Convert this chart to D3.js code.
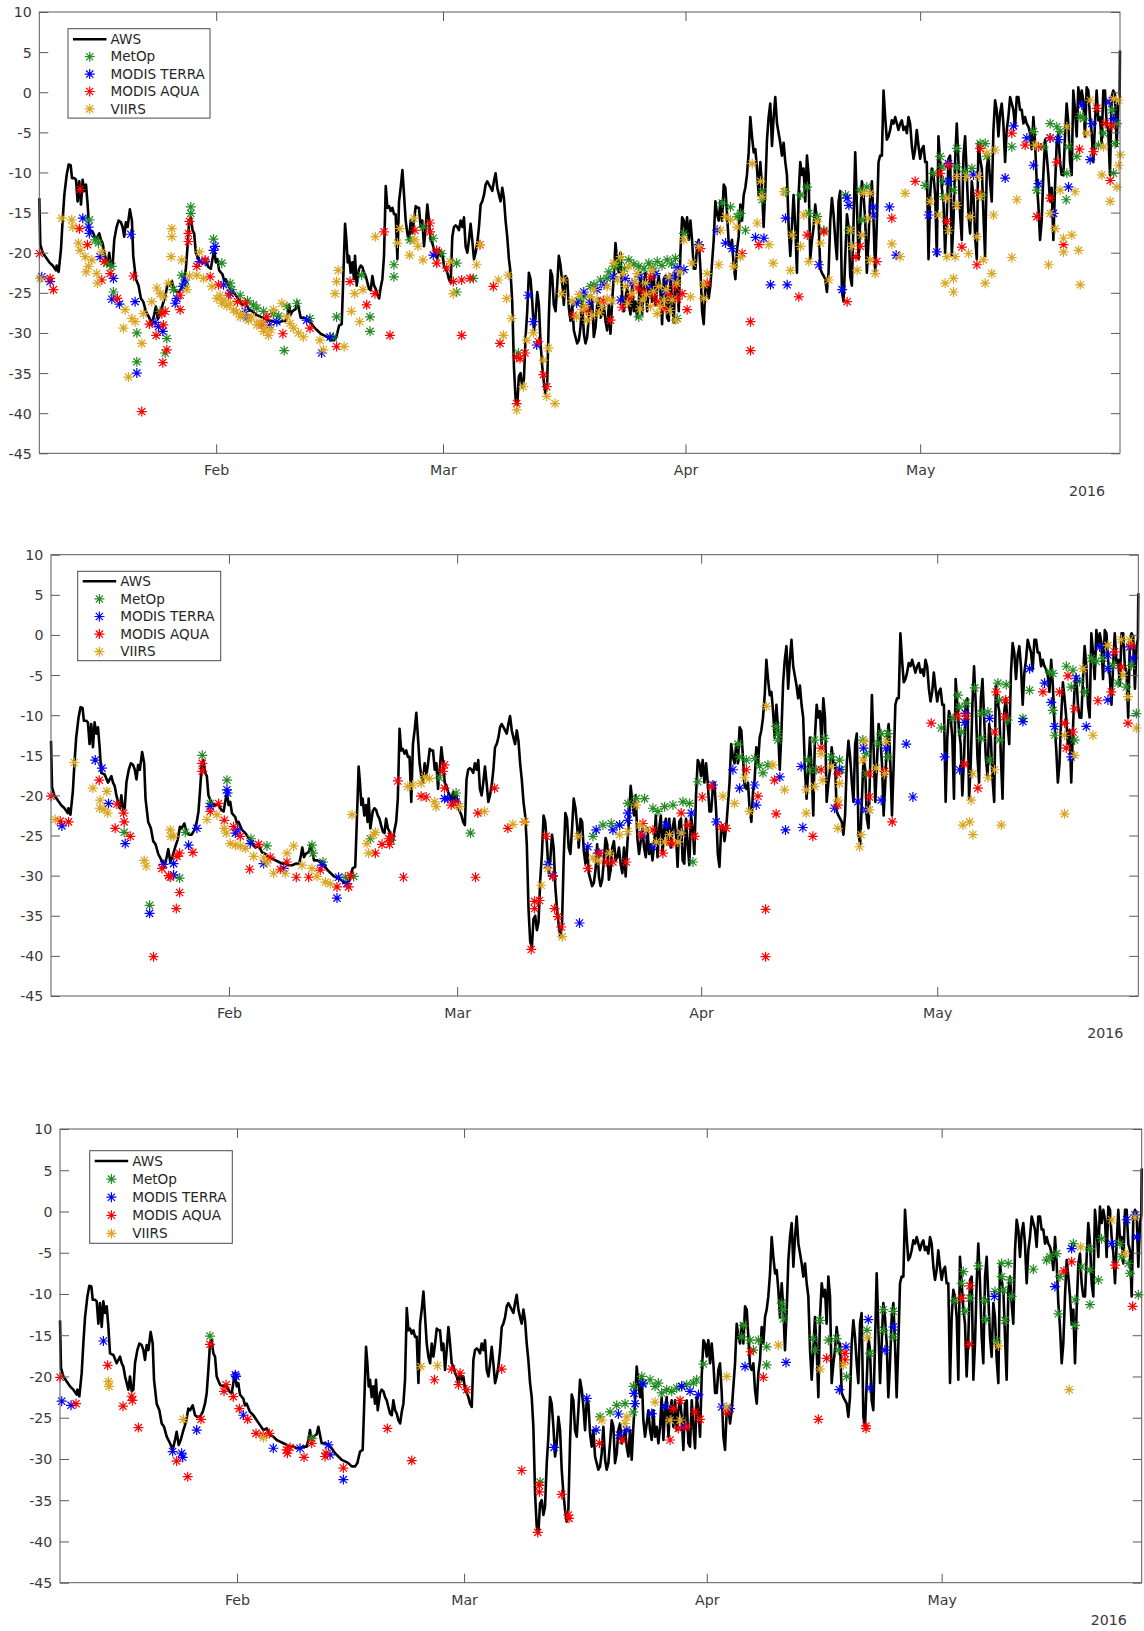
<!DOCTYPE html>
<html><head><meta charset="utf-8">
<script src="https://cdn.jsdelivr.net/npm/d3@7"></script>
<style>body{margin:0;background:#fff}svg{display:block}text{font-family:"DejaVu Sans",sans-serif}</style>
</head><body><svg id="c" width="1144" height="1631"></svg>
<script>
// ---- data (days since 2016-01-01 00:00 UTC, temperature °C) ----
const seriesNames = ["AWS","MetOp","MODIS TERRA","MODIS AQUA","VIIRS"];
const seriesColors = ["#000000","#228B22","#0000FF","#FF0000","#DAA520"];
const yTicks = [10,5,0,-5,-10,-15,-20,-25,-30,-35,-40,-45];
const yDomain = [-45,10];
const dayRange = [8.39,146.55];
const monthTickDays = [31,60,91,121];
const monthLabels = ["Feb","Mar","Apr","May"];
const yearLabel = "2016";

const aws = [[8.39,-13.2],[8.52,-19.0],[8.82,-20.0],[9.25,-20.6],[9.67,-21.2],[10.10,-21.6],[10.52,-22.2],[10.61,-21.6],[10.86,-22.4],[11.16,-19.6],[11.37,-16.0],[11.59,-12.8],[11.89,-10.3],[12.14,-9.0],[12.40,-9.1],[12.57,-10.7],[12.87,-10.7],[13.08,-10.9],[13.29,-13.6],[13.50,-11.1],[13.72,-14.0],[13.93,-10.9],[14.14,-12.3],[14.36,-11.5],[14.57,-14.0],[14.78,-17.2],[15.21,-17.4],[15.63,-18.4],[16.06,-17.6],[16.27,-18.4],[16.48,-18.8],[16.70,-20.0],[17.12,-21.6],[17.33,-20.0],[17.55,-21.8],[17.76,-21.6],[17.97,-18.4],[18.27,-16.8],[18.53,-16.0],[18.82,-16.2],[19.04,-16.8],[19.25,-18.0],[19.46,-16.2],[19.68,-16.8],[19.97,-14.6],[20.23,-16.0],[20.40,-20.4],[20.74,-23.3],[21.08,-24.1],[21.38,-25.7],[21.68,-26.1],[22.02,-27.3],[22.44,-28.1],[22.78,-28.9],[23.08,-27.7],[23.29,-26.7],[23.55,-28.3],[23.81,-27.7],[24.15,-26.5],[24.49,-25.5],[24.78,-23.9],[25.00,-24.1],[25.34,-23.5],[25.64,-24.7],[25.93,-24.9],[26.27,-24.9],[26.62,-24.3],[26.91,-23.3],[27.13,-22.0],[27.34,-19.2],[27.55,-16.0],[27.76,-15.6],[27.98,-17.2],[28.19,-17.6],[28.40,-20.0],[28.83,-21.0],[29.25,-21.2],[29.68,-21.2],[30.02,-21.8],[30.32,-22.0],[30.53,-20.8],[30.74,-19.6],[30.96,-21.2],[31.17,-20.8],[31.38,-22.2],[31.81,-22.7],[32.02,-23.5],[32.23,-23.3],[32.66,-24.3],[33.09,-24.7],[33.51,-25.3],[33.94,-25.9],[34.36,-26.5],[34.79,-26.3],[35.21,-27.1],[35.64,-27.3],[36.07,-27.7],[36.49,-27.9],[36.92,-28.1],[37.34,-28.3],[37.77,-28.5],[38.19,-28.5],[38.62,-28.7],[39.05,-28.7],[39.47,-28.5],[39.90,-28.5],[40.11,-27.7],[40.32,-26.5],[40.54,-27.7],[40.75,-27.3],[41.17,-27.0],[41.39,-26.1],[41.81,-28.1],[42.24,-28.1],[42.66,-28.3],[43.09,-28.7],[43.52,-29.3],[43.94,-29.7],[44.37,-30.1],[44.79,-30.3],[45.22,-30.5],[45.64,-30.9],[46.07,-30.9],[46.37,-30.5],[46.71,-29.1],[47.05,-28.9],[47.22,-24.1],[47.48,-16.4],[47.65,-18.4],[47.82,-21.2],[47.99,-20.4],[48.20,-22.5],[48.41,-21.2],[48.62,-23.3],[48.75,-20.4],[48.97,-24.1],
[49.27,-22.0],[49.48,-21.6],[49.70,-21.8],[49.91,-22.5],[50.12,-22.9],[50.33,-23.7],[50.55,-24.5],[50.76,-24.7],[50.97,-22.9],[51.19,-24.1],[51.40,-24.5],[51.61,-25.3],[51.83,-25.7],[52.04,-24.3],[52.25,-23.3],[52.46,-20.4],[52.68,-11.7],[52.89,-14.4],[53.10,-14.2],[53.31,-14.8],[53.53,-14.4],[53.74,-15.2],[53.95,-15.2],[54.17,-20.8],[54.38,-13.6],[54.59,-11.9],[54.81,-9.7],[55.02,-12.8],[55.23,-16.0],[55.44,-17.6],[55.66,-18.4],[55.87,-16.0],[56.08,-17.6],[56.30,-16.0],[56.51,-14.2],[56.72,-14.4],[56.93,-14.4],[57.15,-16.8],[57.36,-16.0],[57.57,-19.2],[57.78,-16.8],[58.00,-14.0],[58.21,-16.0],[58.42,-18.4],[58.64,-18.8],[58.85,-19.6],[59.06,-20.0],[59.27,-20.8],[59.49,-19.6],[59.70,-20.4],[59.91,-20.0],[60.12,-21.6],[60.34,-22.0],[60.55,-22.5],[60.76,-23.3],[60.98,-23.7],[61.19,-18.0],[61.40,-16.8],[61.62,-16.6],[61.83,-16.8],[62.04,-17.2],[62.25,-16.0],[62.47,-16.8],[62.68,-15.6],[62.89,-19.2],[63.11,-20.0],[63.32,-18.4],[63.53,-16.4],[63.74,-18.4],[63.96,-20.8],[64.17,-20.0],[64.38,-18.8],[64.60,-16.8],[64.81,-14.0],[65.02,-13.6],[65.24,-12.8],[65.45,-11.5],[65.66,-11.1],[65.87,-11.5],[66.09,-11.9],[66.30,-12.3],[66.51,-11.1],[66.72,-10.1],[66.94,-11.9],[67.15,-12.8],[67.36,-13.6],[67.58,-11.9],[67.79,-13.2],[68.00,-16.0],[68.21,-18.0],[68.43,-20.8],[68.64,-22.5],[68.85,-26.1],[69.07,-34.2],[69.28,-38.2],[69.49,-39.0],[69.70,-35.4],[69.92,-35.0],[70.13,-36.8],[70.34,-35.8],[70.56,-30.5],[70.77,-27.3],[70.98,-22.5],[71.19,-23.3],[71.41,-26.1],[71.62,-29.7],[71.83,-28.1],[72.05,-24.9],[72.26,-26.5],[72.47,-31.3],[72.69,-34.2],[72.90,-36.2],[73.11,-37.6],[73.32,-36.2],[73.54,-27.7],[73.75,-22.2],[73.96,-22.9],[74.17,-26.5],[74.39,-27.3],[74.60,-24.1],[74.81,-20.4],[75.03,-21.6],[75.24,-23.7],[75.45,-26.5],[75.67,-22.9],[75.88,-23.3],[76.09,-26.9],[76.30,-28.5],[76.52,-26.5],[76.73,-29.7],[76.94,-30.5],[77.15,-31.3],[77.37,-30.9],[77.58,-29.3],[77.79,-26.1],[78.01,-30.1],[78.22,-31.3],[78.43,-30.5],[78.64,-28.1],[78.86,-25.3],[79.07,-26.1],[79.28,-30.5],[79.50,-29.3],[79.71,-26.5],[79.92,-25.7],[80.13,-28.1],[80.35,-27.7],[80.56,-26.5],[80.77,-28.5],[80.99,-29.7],[81.20,-26.5],[81.41,-30.1],[81.62,-26.1],[81.84,-22.9],[82.05,-18.8],[82.26,-20.8],[82.48,-22.5],[82.69,-20.0],[82.90,-25.3],[83.11,-27.3],[83.33,-25.7],[83.54,-24.1],[83.75,-26.5],[83.97,-27.7],[84.18,-24.1],[84.39,-27.3],[84.60,-26.1],[84.82,-28.1],[85.03,-26.1],[85.24,-22.5],[85.46,-27.7],[85.67,-24.1],[85.88,-22.5],[86.10,-27.3],[86.31,-24.1],[86.52,-22.9],[86.73,-26.1],[86.95,-22.9],[87.16,-26.5],[87.37,-24.1],[87.59,-22.9],[87.80,-24.9],[88.01,-28.9],[88.22,-23.3],[88.44,-22.9],[88.65,-28.1],[88.86,-28.5],[89.08,-22.9],[89.29,-26.1],[89.50,-28.7],[89.71,-22.5],[89.93,-24.1],[90.14,-27.3],[90.35,-20.0],[90.57,-15.6],[90.78,-16.0],[90.99,-17.6],[91.20,-15.6],[91.42,-18.4],[91.63,-16.0],[91.84,-18.4],[92.06,-22.0],[92.27,-22.0],[92.48,-19.2],[92.69,-18.4],[92.91,-22.0],[93.12,-27.3],[93.33,-28.9],[93.55,-24.1],[93.76,-23.7],[93.97,-25.7],[94.18,-24.1],[94.40,-21.2],[94.61,-18.4],[94.82,-13.6],[95.04,-15.2],[95.25,-16.0],[95.46,-13.6],[95.67,-16.0],[95.89,-11.5],[96.10,-11.9],[96.31,-15.2],[96.53,-18.8],[96.74,-19.2],[96.95,-18.4],[97.16,-21.6],[97.38,-23.3],[97.59,-19.6],[97.80,-18.0],[98.01,-14.0],
[98.23,-16.0],[98.44,-12.8],[98.65,-11.9],[98.86,-10.3],[99.08,-7.5],[99.29,-3.1],[99.50,-5.5],[99.72,-7.5],[99.93,-7.1],[100.14,-9.5],[100.35,-12.8],[100.57,-8.7],[100.78,-11.9],[100.99,-16.8],[101.21,-11.9],[101.42,-5.9],[101.63,-3.1],[101.84,-1.4],[102.06,-6.7],[102.27,-3.1],[102.48,-0.6],[102.70,-3.9],[102.91,-5.1],[103.12,-6.3],[103.33,-7.9],[103.55,-6.3],[103.76,-8.7],[103.97,-10.3],[104.19,-16.8],[104.40,-20.4],[104.61,-16.8],[104.82,-12.8],[105.04,-16.8],[105.25,-22.5],[105.46,-12.8],[105.68,-8.7],[105.89,-10.3],[106.10,-9.5],[106.31,-13.6],[106.53,-7.9],[106.74,-10.3],[106.95,-20.8],[107.17,-18.4],[107.38,-16.8],[107.59,-14.0],[107.80,-16.0],[108.02,-16.0],[108.23,-22.0],[108.44,-22.5],[108.66,-22.9],[108.87,-23.3],[109.08,-24.9],[109.29,-22.5],[109.51,-16.0],[109.72,-13.2],[109.93,-15.2],[110.15,-18.4],[110.36,-20.8],[110.57,-13.6],[110.78,-12.3],[111.00,-24.9],[111.21,-26.1],[111.42,-20.8],[111.64,-15.2],[111.85,-16.8],[112.06,-22.9],[112.27,-24.1],[112.49,-16.0],[112.70,-7.5],[112.91,-14.0],[113.13,-20.8],[113.34,-16.0],[113.55,-11.1],[113.76,-12.8],[113.98,-16.0],[114.19,-22.5],[114.40,-18.4],[114.62,-12.8],[114.83,-11.1],[115.04,-16.0],[115.25,-22.5],[115.47,-16.0],[115.68,-8.7],[115.89,-7.9],[116.11,-7.9],[116.32,0.2],[116.53,-3.1],[116.74,-5.9],[116.96,-5.5],[117.17,-4.7],[117.38,-3.5],[117.60,-3.9],[117.81,-3.1],[118.02,-3.9],[118.23,-4.7],[118.45,-3.9],[118.66,-3.5],[118.87,-4.7],[119.09,-4.3],[119.30,-5.1],[119.51,-3.1],[119.72,-3.9],[119.94,-6.7],[120.15,-8.3],[120.36,-7.1],[120.57,-4.7],[120.79,-6.7],[121.00,-8.3],[121.21,-7.1],[121.43,-6.7],[121.64,-8.7],[121.85,-8.7],[122.07,-20.8],[122.28,-12.8],[122.49,-9.5],[122.70,-10.3],[122.92,-12.8],[123.13,-20.4],[123.34,-5.5],[123.56,-8.7],[123.77,-11.9],[123.98,-13.6],[124.19,-20.0],[124.41,-15.2],[124.62,-8.3],[124.83,-7.9],[125.05,-20.4],[125.26,-16.0],[125.47,-8.7],[125.68,-3.9],[125.90,-8.7],[126.11,-15.2],[126.32,-18.4],[126.54,-7.9],[126.75,-5.5],[126.96,-10.3],[127.17,-15.2],[127.39,-17.6],[127.60,-11.1],[127.81,-12.8],[128.03,-18.0],[128.24,-20.8],[128.45,-6.3],[128.66,-8.3],[128.88,-9.5],[129.09,-15.2],[129.30,-20.4],[129.52,-9.5],[129.73,-7.9],[129.94,-11.1],[130.15,-13.6],[130.37,-4.7],[130.58,-1.0],[130.79,-2.2],[131.01,-5.5],[131.22,-2.6],[131.43,-1.4],[131.64,-3.9],[131.86,-8.7],[132.07,-4.7],[132.28,-3.1],[132.50,-0.6],[132.71,-1.4],[132.92,-2.2],[133.13,-4.3],[133.35,-0.6],[133.56,-0.6],[133.77,-2.2],[133.99,-2.2],[134.20,-3.9],[134.41,-3.1],[134.62,-3.9],[134.84,-4.3],[135.05,-5.1],[135.26,-7.1],[135.48,-3.1],[135.69,-6.3],[135.90,-11.1],[136.11,-14.0],[136.33,-18.4],[136.54,-16.0],[136.75,-10.3],[136.97,-5.9],[137.18,-7.9],[137.39,-10.3],[137.60,-13.6],[137.82,-11.9],[138.03,-18.4],[138.24,-11.9],[138.46,-6.3],[138.67,-5.1],[138.88,-8.7],[139.09,-10.3],[139.31,-10.3],[139.52,-5.5],[139.73,-1.4],[139.95,-3.9],[140.16,-8.7],[140.37,-10.3],[140.58,0.2],[140.80,-2.2],[141.01,-5.5],[141.22,0.6],[141.44,-1.4],[141.65,0.2],[141.86,-1.0],[142.07,-5.5],[142.29,0.6],[142.50,0.2],[142.71,-3.1],[142.93,-5.1],[143.14,-8.7],[143.35,-3.9],[143.56,0.2],[143.78,-3.5],[143.99,-3.1],[144.20,-6.3],[144.42,0.2],[144.63,0.2],[144.84,-3.9],[145.05,-4.7],[145.27,-10.3],[145.48,-0.6],[145.69,0.2],[145.90,-0.2],[146.12,-6.7],[146.33,-1.4],[146.50,-0.5],[146.55,5.2]];

// ---- panel 1 satellites ----
const p1MetOp = [[14.80,-15.9],[15.53,-18.4],[15.95,-18.8],[17.02,-21.3],[17.66,-21.7],[17.87,-24.9],[20.86,-30.0],[20.86,-33.6],[23.84,-27.3],[24.48,-32.5],[24.69,-30.7],[25.54,-24.6],[26.61,-22.8],[26.95,-24.0],[27.76,-14.3],[27.76,-15.1],[30.66,-18.3],[31.72,-21.3],[32.79,-23.8],[33.0,-24.6],[34.07,-25.3],[35.0,-26.0],[35.77,-26.5],[36.2,-26.9],[37.05,-27.3],[38.3,-27.6],[39.0,-27.9],[39.70,-32.2],[40.04,-26.7],[41.32,-26.3],[42.99,-28.2],[45.98,-30.5],[46.40,-28.0],[49.60,-22.8],[50.67,-28.0],[50.67,-29.8],[53.73,-21.5],[53.73,-23.0],[55.78,-18.4],[57.49,-16.8],[58.76,-18.2],[59.83,-20.1],[61.75,-21.3],[61.75,-24.9],[63.88,-23.2],[69.63,-32.5],[77.3,-26.0],[78.0,-25.5],[78.85,-24.2],[79.3,-24.0],[80.13,-23.4],[80.98,-23.2],[81.2,-22.4],[81.84,-21.7],[82.2,-21.6],[82.69,-20.9],[83.2,-22.0],[83.75,-20.9],[84.4,-21.4],[85.03,-21.7],[85.03,-28.0],[85.7,-22.0],[86.31,-21.3],[86.8,-21.9],[87.38,-21.1],[88.0,-21.6],[88.66,-20.9],[89.2,-21.4],[89.72,-20.7],[89.93,-28.2],[90.79,-17.6],[95.69,-13.8],[96.75,-14.3],[97.61,-15.5],[98.03,-15.1],[98.67,-17.2],[100.80,-12.4],[100.80,-13.4],[103.79,-12.4],[105.71,-12.8],[106.56,-11.8],[106.77,-15.1],[107.84,-15.5],[108.69,-17.2],[111.46,-12.8],[111.89,-17.2],[113.33,-12.2],[114.18,-11.8],[113.54,-15.9],[121.64,-11.6],[122.70,-10.1],[123.56,-8.0],[123.77,-9.3],[123.98,-11.1],[123.98,-13.0],[125.69,-7.0],[125.69,-9.3],[125.26,-12.2],[126.75,-9.9],[127.61,-9.5],[128.67,-6.4],[129.31,-6.4],[129.53,-8.0],[128.89,-12.8],[132.72,-6.8],[135.49,-4.9],[135.92,-12.2],[136.77,-6.8],[137.62,-3.9],[138.48,-4.3],[138.90,-4.9],[139.76,-10.1],[139.67,-13.4],[139.97,-6.8],[141.03,-8.0],[141.46,-3.0],[141.89,-3.3],[143.80,-6.6],[144.44,-5.1],[145.51,-2.2],[145.72,-10.1],[146.15,-3.9],[145.93,-6.4]];
const p1Terra = [[8.71,-23.0],[9.77,-23.6],[13.95,-15.7],[14.67,-16.8],[14.80,-17.6],[16.17,-20.5],[17.87,-23.2],[17.66,-25.8],[18.64,-26.4],[20.09,-17.7],[20.64,-26.1],[20.86,-35.0],[23.20,-28.7],[23.63,-29.2],[24.18,-29.8],[25.76,-26.3],[25.97,-25.7],[26.74,-24.2],[27.04,-23.4],[28.87,-21.1],[29.59,-21.1],[30.66,-19.7],[30.87,-19.2],[31.94,-24.0],[32.79,-25.1],[34.71,-27.3],[34.92,-28.1],[38.76,-28.6],[37.82,-29.0],[42.57,-28.4],[44.48,-32.5],[45.55,-30.5],[58.76,-20.3],[70.91,-25.3],[71.98,-31.5],[71.55,-28.6],[77.09,-26.3],[78.0,-24.9],[78.8,-26.2],[79.70,-24.6],[80.6,-24.0],[81.8,-23.0],[82.69,-25.9],[83.3,-23.2],[84.18,-23.8],[85.2,-23.0],[86.31,-24.2],[87.2,-22.6],[88.2,-24.8],[88.66,-23.4],[89.4,-23.0],[89.93,-21.9],[90.79,-22.1],[92.71,-19.0],[95.05,-17.2],[96.12,-18.8],[96.97,-19.5],[99.95,-18.1],[101.02,-18.2],[101.87,-24.0],[103.79,-15.7],[104.00,-24.0],[108.05,-21.5],[111.03,-24.6],[111.67,-13.2],[111.89,-14.1],[115.03,-14.3],[115.03,-15.3],[117.08,-14.3],[117.93,-20.3],[122.07,-15.3],[123.13,-19.9],[124.62,-8.9],[124.62,-11.1],[127.82,-10.3],[131.87,-10.7],[132.94,-4.2],[134.64,-5.7],[135.49,-9.1],[136.13,-11.4],[137.62,-5.7],[138.05,-15.1],[138.69,-5.9],[139.97,-11.8],[141.67,-1.6],[142.74,-8.4],[142.95,-3.9],[145.17,-1.2],[145.72,-3.3]];
const p1Aqua = [[8.41,-20.1],[10.20,-24.6],[9.77,-23.2],[13.61,-12.1],[13.52,-17.0],[14.55,-19.0],[16.38,-23.4],[16.68,-21.1],[17.45,-22.6],[18.38,-25.7],[20.43,-22.9],[21.49,-39.8],[22.47,-28.9],[23.33,-30.3],[24.18,-33.7],[24.69,-32.1],[24.05,-27.6],[24.48,-27.3],[24.26,-29.0],[26.40,-27.1],[26.40,-25.3],[27.59,-16.1],[27.46,-17.6],[27.46,-18.6],[28.53,-21.7],[29.59,-20.9],[30.23,-23.0],[31.30,-24.0],[32.58,-25.3],[33.73,-26.1],[34.71,-26.3],[36.84,-29.0],[37.48,-28.0],[39.53,-30.1],[42.99,-29.4],[46.40,-31.7],[48.11,-23.6],[50.24,-26.5],[51.30,-25.1],[53.22,-30.3],[52.46,-17.4],[56.42,-17.2],[58.34,-16.3],[58.34,-17.4],[59.19,-19.7],[59.19,-21.3],[60.47,-21.9],[61.32,-23.6],[62.39,-23.4],[62.39,-30.3],[63.45,-23.2],[64.73,-19.0],[66.44,-24.2],[67.29,-31.3],[69.42,-33.0],[69.85,-33.2],[69.42,-38.8],[70.49,-32.5],[72.19,-31.1],[72.83,-35.2],[73.26,-36.7],[76.67,-27.8],[78.3,-27.2],[80.5,-26.0],[81.41,-28.4],[82.9,-26.8],[83.9,-25.6],[84.82,-24.4],[85.6,-24.9],[86.52,-23.0],[86.9,-25.3],[87.38,-26.1],[88.2,-27.0],[89.0,-25.3],[89.72,-24.2],[90.0,-25.8],[91.21,-27.1],[90.57,-25.1],[92.92,-19.5],[93.77,-23.8],[98.25,-20.1],[99.31,-28.6],[99.31,-32.2],[100.38,-19.0],[106.56,-17.8],[108.69,-17.4],[105.49,-25.5],[111.67,-26.1],[112.8,-20.5],[113.33,-19.2],[115.46,-21.1],[117.38,-15.7],[120.36,-11.1],[123.56,-10.1],[124.62,-9.1],[124.41,-16.1],[126.33,-19.3],[128.25,-21.5],[128.67,-7.0],[128.46,-12.6],[132.72,-5.1],[134.43,-6.6],[135.92,-15.5],[136.13,-6.8],[137.62,-5.7],[137.62,-13.2],[138.48,-8.7],[139.33,-19.0],[141.37,-7.1],[143.17,-7.4],[143.59,-2.0],[144.66,-3.9],[145.30,-11.0],[145.51,-4.2]];
const p1Viirs = [[8.49,-23.2],[11.26,-15.7],[12.54,-15.9],[12.67,-16.8],[13.39,-18.8],[13.61,-19.7],[14.25,-20.5],[14.67,-21.7],[15.10,-20.9],[15.74,-22.6],[14.38,-22.4],[15.83,-23.8],[16.38,-19.9],[19.36,-27.1],[19.15,-29.4],[19.79,-35.5],[20.22,-28.2],[20.64,-28.6],[21.49,-31.3],[21.71,-27.6],[22.77,-26.1],[23.41,-24.4],[23.84,-25.1],[24.26,-25.5],[24.90,-23.8],[25.33,-17.0],[25.33,-18.0],[25.25,-20.5],[26.61,-20.9],[27.25,-24.6],[27.59,-22.9],[28.87,-19.9],[28.53,-22.8],[29.38,-23.2],[30.45,-24.2],[31.09,-25.7],[31.5,-25.3],[31.72,-26.3],[32.0,-25.9],[32.36,-26.6],[32.8,-26.3],[33.22,-27.1],[33.6,-27.4],[34.07,-28.0],[34.5,-27.6],[35.13,-28.4],[35.5,-28.0],[36.20,-29.0],[36.5,-28.6],[37.05,-29.8],[37.3,-29.2],[37.69,-30.3],[38.0,-29.6],[38.33,-27.1],[39.40,-26.3],[40.04,-28.0],[40.89,-29.4],[41.53,-30.0],[40.43,-28.8],[42.14,-30.5],[44.27,-30.9],[44.70,-32.1],[46.19,-25.1],[46.61,-22.2],[46.40,-23.6],[47.36,-31.7],[48.29,-27.3],[48.71,-25.1],[49.35,-28.6],[49.77,-24.6],[51.35,-18.0],[54.46,-17.0],[54.17,-18.8],[55.73,-20.3],[56.29,-15.7],[56.38,-18.4],[56.80,-19.2],[57.43,-20.9],[61.32,-25.1],[60.90,-21.1],[64.30,-21.5],[64.73,-19.0],[67.07,-23.4],[68.14,-25.7],[68.35,-22.8],[68.78,-28.2],[67.72,-30.3],[69.42,-39.6],[70.27,-36.7],[70.70,-30.9],[71.55,-30.0],[72.83,-33.4],[73.26,-37.9],[73.47,-31.9],[74.32,-38.8],[75.39,-23.4],[75.17,-25.1],[77.09,-28.0],[76.5,-26.0],[77.4,-25.2],[77.79,-27.1],[78.2,-26.6],[78.43,-28.4],[79.06,-27.8],[78.85,-25.5],[79.3,-24.6],[79.70,-25.9],[80.0,-27.5],[80.34,-26.7],[80.98,-25.7],[81.0,-24.2],[81.6,-26.0],[81.84,-21.3],[82.3,-23.4],[82.69,-20.5],[83.0,-22.6],[83.33,-24.2],[83.6,-26.3],[83.75,-21.7],[84.18,-25.1],[84.5,-23.6],[84.82,-22.6],[85.2,-27.0],[85.46,-25.9],[85.89,-23.8],[86.0,-25.2],[86.52,-26.7],[86.74,-22.2],[86.9,-24.8],[87.38,-27.6],[87.59,-24.2],[87.8,-26.7],[88.23,-25.9],[88.5,-24.6],[88.87,-23.0],[89.0,-27.2],[89.29,-25.9],[89.72,-28.4],[89.9,-23.8],[90.3,-22.4],[90.79,-18.4],[91.64,-25.5],[91.85,-21.3],[92.71,-19.2],[93.34,-25.7],[93.34,-24.0],[93.77,-22.6],[95.26,-21.5],[95.48,-17.2],[96.12,-15.5],[96.75,-15.9],[97.18,-21.7],[97.61,-16.8],[98.03,-20.5],[99.53,-8.9],[100.59,-11.1],[100.80,-13.0],[100.16,-16.3],[101.66,-19.0],[102.21,-21.3],[103.57,-12.4],[104.43,-22.2],[104.64,-17.8],[105.71,-19.2],[106.13,-15.3],[106.77,-21.1],[107.84,-16.1],[108.26,-18.8],[109.33,-23.4],[112.10,-17.2],[112.31,-19.2],[112.95,-22.2],[113.54,-17.8],[113.75,-12.6],[114.61,-12.6],[114.39,-15.7],[114.61,-20.9],[115.25,-22.6],[119.08,-12.6],[117.38,-18.9],[118.44,-20.5],[122.28,-13.6],[123.34,-15.3],[124.41,-13.2],[124.41,-20.5],[124.20,-23.8],[125.26,-23.2],[125.26,-24.9],[124.62,-17.2],[125.69,-10.5],[125.69,-14.1],[125.48,-20.5],[126.96,-10.5],[127.39,-15.5],[128.25,-18.0],[127.18,-20.1],[128.46,-10.5],[128.67,-13.0],[129.10,-20.9],[129.31,-23.8],[130.16,-22.6],[130.38,-15.3],[129.53,-7.6],[130.59,-7.2],[132.72,-20.6],[133.36,-13.4],[135.71,-6.6],[137.41,-21.5],[137.62,-15.1],[138.26,-17.0],[138.90,-12.2],[139.76,-4.3],[139.33,-18.2],[139.33,-19.9],[140.39,-17.8],[140.82,-12.4],[141.25,-19.7],[141.46,-24.0],[142.31,-5.1],[142.74,-1.0],[144.23,-10.3],[144.44,-6.8],[145.30,-13.6],[145.72,-0.8],[146.36,-1.0],[146.58,-7.8],[146.36,-9.1],[146.15,-11.8]];

// ---- panel 2 satellites ----
const p2MetOp = [[17.69,-24.6],[20.92,-33.7],[24.73,-30.3],[25.45,-24.6],[27.61,-15.0],[30.75,-18.1],[28.63,-21.0],[33.80,-25.4],[35.83,-26.3],[41.55,-26.2],[41.68,-27.2],[42.95,-28.3],[45.79,-30.2],[46.85,-30.1],[48.97,-25.4],[51.61,-25.6],[57.75,-17.8],[59.87,-19.7],[61.69,-24.7],[77.25,-25.1],[78.52,-23.7],[79.58,-23.5],[80.64,-23.7],[81.69,-21.0],[82.75,-20.4],[83.81,-20.4],[84.87,-21.6],[85.51,-22.0],[86.36,-21.4],[87.42,-21.2],[88.69,-20.8],[89.53,-21.0],[89.96,-28.3],[90.59,-18.3],[95.68,-13.6],[95.89,-15.2],[96.74,-15.6],[97.80,-15.4],[98.43,-16.3],[98.86,-17.2],[99.49,-16.2],[100.53,-11.4],[100.75,-12.3],[100.75,-13.1],[104.56,-15.6],[104.77,-16.8],[105.41,-13.1],[106.68,-12.9],[107.53,-15.2],[108.58,-15.6],[108.80,-16.8],[105.62,-16.8],[111.55,-13.1],[111.97,-14.8],[113.46,-13.5],[113.88,-12.3],[114.73,-12.3],[114.73,-15.2],[111.97,-17.3],[121.51,-11.6],[123.0,-10.4],[123.63,-7.5],[123.84,-9.0],[124.05,-12.1],[124.69,-8.5],[125.75,-6.6],[126.59,-9.8],[126.59,-12.9],[127.44,-9.6],[127.65,-15.6],[128.71,-6.0],[128.92,-8.1],[129.77,-6.2],[129.98,-10.6],[128.92,-13.1],[132.74,-6.9],[131.89,-10.4],[135.28,-4.6],[135.70,-4.8],[135.70,-9.4],[135.92,-12.5],[137.40,-3.9],[138.25,-4.4],[138.03,-6.5],[138.46,-13.1],[139.09,-5.8],[139.73,-7.1],[140.58,-2.9],[141.21,-3.3],[142.06,-2.9],[143.33,-3.8],[143.97,-6.0],[145.03,-6.5],[145.66,-3.8],[146.30,-9.8]];
const p2Terra = [[9.77,-23.8],[14.01,-15.6],[14.86,-16.6],[15.70,-21.0],[17.82,-26.0],[20.92,-34.7],[22.69,-28.6],[23.97,-28.5],[23.97,-29.9],[25.87,-26.2],[26.93,-24.1],[28.63,-21.4],[30.75,-19.3],[30.83,-19.7],[31.81,-24.7],[32.10,-24.3],[33.71,-26.0],[35.41,-28.5],[37.95,-29.1],[42.82,-28.7],[44.73,-32.8],[44.94,-30.2],[46.00,-31.0],[58.39,-20.4],[58.81,-20.4],[59.87,-20.8],[71.53,-28.6],[72.16,-30.0],[75.55,-35.9],[76.61,-26.4],[77.88,-27.2],[77.67,-24.3],[79.79,-24.3],[80.64,-23.7],[81.69,-22.2],[81.69,-23.1],[83.60,-24.9],[84.87,-26.4],[86.57,-23.7],[88.47,-24.7],[89.75,-22.2],[92.50,-18.7],[92.92,-23.3],[95.04,-16.8],[95.89,-19.1],[97.80,-18.7],[98.01,-21.2],[101.0,-17.7],[101.72,-24.3],[103.71,-16.4],[103.92,-24.0],[108.58,-16.8],[107.94,-21.6],[110.92,-20.8],[111.64,-14.1],[111.89,-21.8],[113.88,-20.6],[114.52,-14.1],[117.06,-13.6],[117.91,-20.2],[121.93,-15.2],[124.60,-9.8],[124.47,-10.9],[123.84,-16.8],[127.65,-10.4],[131.89,-10.8],[132.74,-4.2],[134.64,-6.0],[135.49,-8.4],[135.92,-11.4],[138.67,-5.4],[138.03,-15.2],[139.94,-11.4],[141.64,-1.5],[142.69,-4.2],[142.69,-2.5],[145.45,-1.5],[145.87,-2.9],[142.69,-8.1]];
const p2Aqua = [[8.40,-20.1],[9.56,-23.2],[10.62,-23.3],[14.52,-18.1],[16.55,-24.1],[16.76,-21.1],[17.61,-22.2],[17.69,-23.3],[18.46,-25.1],[21.42,-40.1],[22.48,-29.1],[23.33,-30.0],[23.54,-30.2],[24.31,-34.1],[24.73,-32.1],[24.73,-27.2],[24.39,-27.6],[26.42,-27.1],[27.61,-16.0],[27.61,-17.0],[28.63,-22.0],[29.69,-21.0],[30.41,-23.1],[31.59,-23.9],[32.44,-25.1],[33.63,-29.2],[34.77,-26.1],[36.25,-27.7],[37.53,-29.2],[38.37,-28.3],[39.56,-30.2],[41.13,-30.2],[42.61,-29.3],[44.73,-31.4],[46.21,-31.4],[46.42,-30.0],[49.60,-27.2],[50.45,-26.1],[51.30,-25.4],[51.40,-26.1],[51.61,-25.1],[52.46,-18.2],[53.18,-30.2],[55.42,-20.1],[56.06,-20.2],[58.39,-16.2],[58.18,-17.0],[58.39,-19.1],[59.24,-21.2],[59.87,-21.0],[62.33,-30.2],[62.63,-22.2],[64.75,-19.1],[66.44,-24.1],[68.56,-23.3],[69.41,-39.2],[69.83,-33.2],[70.47,-33.1],[69.83,-34.1],[71.31,-25.1],[72.16,-30.1],[72.37,-34.1],[72.80,-35.1],[73.22,-36.4],[76.61,-29.1],[78.09,-27.2],[78.94,-28.3],[79.79,-28.3],[81.48,-28.3],[83.39,-24.9],[83.60,-23.5],[84.87,-24.3],[86.14,-27.2],[86.99,-25.8],[87.42,-26.0],[88.47,-22.2],[89.32,-23.7],[90.17,-25.1],[91.14,-20.2],[92.29,-18.9],[93.56,-23.9],[94.19,-24.1],[96.74,-16.8],[98.22,-20.1],[99.19,-34.2],[99.19,-40.1],[100.32,-18.1],[100.53,-22.3],[105.19,-25.1],[106.25,-14.1],[106.25,-16.8],[108.37,-17.3],[108.37,-21.2],[112.40,-20.2],[112.40,-17.3],[114.31,-17.0],[115.28,-23.3],[120.24,-11.0],[123.63,-10.1],[124.69,-10.1],[124.47,-16.1],[126.17,-19.1],[128.29,-12.1],[128.50,-7.1],[129.69,-8.1],[129.56,-10.2],[134.43,-7.1],[136.55,-7.1],[137.19,-11.0],[137.40,-14.1],[138.25,-12.1],[137.61,-5.1],[138.46,-9.2],[141.42,-8.2],[143.12,-7.1],[143.54,-2.1],[144.39,-4.0],[145.24,-11.0],[145.66,-1.3]];
const p2Viirs = [[8.92,-23.0],[11.34,-15.9],[13.71,-19.1],[14.64,-20.6],[14.56,-21.6],[15.49,-19.5],[15.58,-22.2],[15.15,-21.7],[20.24,-28.1],[20.49,-28.8],[23.54,-24.3],[23.63,-25.1],[23.97,-25.1],[28.20,-23.0],[29.47,-22.4],[30.41,-24.1],[30.66,-24.7],[31.17,-26.0],[31.81,-26.2],[32.44,-26.3],[33.08,-26.6],[34.14,-27.6],[35.41,-27.8],[35.83,-28.4],[36.68,-29.7],[38.16,-29.7],[38.37,-27.2],[39.22,-26.3],[40.28,-28.7],[41.55,-29.1],[42.19,-30.1],[43.25,-30.8],[43.88,-31.0],[46.64,-22.4],[48.54,-26.0],[48.75,-27.2],[49.39,-24.9],[49.60,-24.6],[53.73,-18.9],[54.36,-18.7],[55.85,-17.7],[56.48,-17.9],[55.42,-18.5],[57.12,-20.8],[57.33,-21.4],[60.30,-21.4],[63.47,-22.0],[67.08,-23.6],[68.56,-23.3],[70.68,-31.2],[71.53,-29.1],[73.35,-37.6],[75.34,-25.1],[77.25,-27.8],[77.88,-28.1],[79.36,-27.2],[80.64,-24.9],[81.69,-24.5],[82.75,-21.2],[83.18,-23.7],[84.03,-24.3],[85.30,-25.8],[86.36,-25.8],[86.99,-24.9],[88.05,-25.8],[88.47,-24.7],[93.77,-20.1],[95.25,-21.0],[96.53,-17.8],[97.16,-22.0],[99.28,-8.9],[100.11,-16.2],[101.59,-19.3],[104.35,-19.3],[104.35,-22.2],[105.41,-18.9],[106.25,-14.8],[106.47,-18.1],[107.53,-16.4],[108.58,-18.5],[108.37,-20.6],[108.37,-24.1],[111.13,-26.4],[111.34,-24.9],[111.76,-13.3],[111.55,-15.6],[112.40,-21.8],[113.25,-16.6],[114.31,-17.3],[114.52,-13.3],[124.26,-23.7],[125.11,-23.3],[125.53,-24.9],[125.53,-17.3],[125.32,-20.6],[127.44,-17.8],[128.29,-16.8],[129.14,-23.7],[137.19,-22.3],[137.19,-12.5],[138.46,-15.0],[139.52,-4.2],[140.79,-12.5],[142.69,-1.3],[144.39,-0.6],[145.45,-0.6],[144.60,-5.0],[145.24,-7.7],[146.30,-11.6]];

// ---- panel 3 satellites ----
const p3MetOp = [[27.55,-15.1],[40.54,-27.5],[69.71,-32.8],[77.37,-24.9],[78.65,-24.3],[79.50,-23.5],[80.56,-23.3],[81.63,-24.3],[81.63,-21.2],[82.69,-20.0],[82.90,-20.8],[83.75,-20.4],[84.39,-21.2],[84.82,-20.8],[85.24,-22.0],[85.88,-21.6],[86.52,-21.8],[87.16,-21.4],[87.80,-21.2],[88.44,-21.0],[89.29,-20.8],[89.71,-20.4],[90.57,-18.5],[95.67,-13.8],[95.46,-15.2],[96.53,-15.6],[96.95,-16.8],[97.59,-15.6],[98.65,-16.4],[98.65,-18.6],[100.57,-11.1],[100.69,-11.9],[100.78,-13.0],[104.61,-15.4],[104.82,-16.8],[105.46,-13.2],[106.53,-15.6],[107.59,-15.4],[107.80,-16.8],[108.86,-20.0],[111.46,-14.4],[111.85,-17.2],[113.55,-11.9],[113.55,-14.4],[114.83,-12.1],[114.83,-15.2],[122.70,-10.8],[123.77,-7.3],[123.55,-8.7],[123.98,-12.1],[124.62,-10.5],[125.68,-6.6],[126.53,-10.8],[126.66,-13.1],[127.81,-9.7],[128.66,-6.3],[128.66,-7.9],[128.88,-9.5],[129.09,-13.2],[129.51,-6.3],[129.73,-8.3],[129.94,-10.3],[128.02,-15.7],[132.71,-7.0],[134.41,-5.9],[134.84,-5.5],[135.69,-5.1],[135.90,-12.4],[136.11,-7.9],[137.82,-3.9],[138.03,-10.7],[138.03,-13.8],[138.88,-6.7],[139.94,-4.5],[139.94,-7.1],[139.94,-11.3],[141.01,-8.3],[141.43,-3.3],[143.78,-3.9],[143.99,-5.5],[144.84,-6.3],[145.05,-7.5],[146.12,-10.1]];
const p3Terra = [[8.61,-23.0],[9.80,-23.5],[13.93,-15.7],[22.78,-29.1],[23.93,-29.3],[24.06,-29.8],[25.85,-26.5],[30.79,-19.8],[30.87,-20.0],[31.81,-24.7],[35.64,-28.7],[39.05,-28.7],[42.66,-28.3],[42.88,-29.5],[44.58,-32.5],[71.49,-28.6],[75.67,-22.65],[76.86,-26.5],[79.71,-24.55],[80.78,-26.5],[79.84,-27.1],[81.71,-22.05],[81.84,-23.3],[82.82,-20.9],[83.97,-24.5],[85.67,-23.6],[87.80,-21.2],[88.86,-21.8],[89.93,-22.2],[88.01,-26.1],[92.91,-23.7],[93.97,-23.9],[95.89,-18.8],[101.12,-18.3],[107.93,-21.6],[108.78,-16.4],[111.63,-13.1],[111.85,-21.4],[113.76,-16.8],[114.83,-14.0],[127.73,-10.3],[135.47,-9.1],[137.60,-4.5],[142.71,-3.9],[144.63,-1.0],[145.90,-3.1],[145.69,-0.4]];
const p3Aqua = [[8.40,-20.1],[10.44,-23.3],[14.48,-18.65],[16.44,-23.6],[17.55,-22.4],[17.63,-22.9],[18.40,-26.2],[23.29,-30.25],[24.70,-32.15],[26.40,-25.2],[27.55,-16.1],[29.60,-21.0],[29.34,-21.8],[30.53,-22.45],[31.30,-23.9],[32.36,-25.2],[33.43,-26.9],[34.36,-27.1],[35.13,-26.9],[37.34,-28.9],[37.43,-29.3],[37.77,-28.6],[39.56,-29.8],[40.54,-28.1],[42.24,-29.7],[42.37,-29.3],[44.58,-31.1],[50.2,-26.3],[53.32,-30.2],[56.21,-20.4],[58.42,-19.1],[59.49,-19.6],[59.28,-21.0],[60.34,-21.6],[64.81,-19.1],[67.36,-31.4],[69.62,-33.2],[69.62,-34.0],[69.41,-38.9],[72.47,-34.3],[73.32,-36.8],[73.41,-37.2],[77.28,-28.1],[80.22,-27.7],[86.31,-27.7],[86.73,-23.9],[87.59,-22.9],[87.37,-26.3],[88.44,-26.1],[89.50,-24.3],[90.14,-25.2],[93.55,-24.3],[98.23,-20.1],[96.61,-17.0],[106.31,-17.8],[105.25,-25.2],[108.65,-17.2],[108.65,-18.0],[111.34,-26.0],[111.34,-26.3],[123.55,-10.5],[124.62,-9.0],[124.53,-16.1],[136.62,-7.2],[137.60,-6.1],[143.14,-6.5],[145.39,-11.5]];
const p3Viirs = [[14.57,-20.6],[14.65,-21.2],[24.15,-25.2],[34.36,-27.4],[54.47,-18.8],[56.59,-18.7],[77.58,-25.3],[80.78,-24.9],[80.56,-25.7],[84.39,-23.1],[86.31,-25.3],[87.59,-25.3],[93.55,-20.0],[93.55,-23.7],[100.14,-16.2],[105.46,-19.1],[108.44,-18.6],[111.51,-15.3],[128.24,-16.3],[137.30,-21.6],[138.75,-4.3],[142.71,-1.0],[144.41,-5.1],[145.69,-0.7]];

// ---- layout ----
const panels = [
  {box:{l:39.3,r:1120,t:12,b:453.3}, legend:{x:68,y:28.7,w:142,h:89.4,first:10.6,gap:17.4}, sats:[p1MetOp,p1Terra,p1Aqua,p1Viirs]},
  {box:{l:51,r:1138.3,t:554.7,b:996}, legend:{x:77.7,y:571.3,w:143,h:89.4,first:10,gap:17.6}, sats:[p2MetOp,p2Terra,p2Aqua,p2Viirs]},
  {box:{l:60,r:1141.7,t:1129,b:1582.7}, legend:{x:89.7,y:1150.7,w:142.6,h:92.6,first:10.3,gap:18.1}, sats:[p3MetOp,p3Terra,p3Aqua,p3Viirs]}
];

const t0 = Date.UTC(2016,0,1);
const toDate = d => new Date(t0 + d*86400000);
const svg = d3.select("#c");
svg.append("rect").attr("width",1144).attr("height",1631).attr("fill","#fff");
const starPath = (r,a) => `M${-r},0H${r}M0,${-r}V${r}M${-a},${-a}L${a},${a}M${-a},${a}L${a},${-a}`;
const STAR = starPath(5,3.6);
const AX = "#5a5a5a", TX = "#3a3a3a";

panels.forEach(p => {
  const {l,r,t,b} = p.box;
  const x = d3.scaleUtc().domain(dayRange.map(toDate)).range([l,r]);
  const y = d3.scaleLinear().domain(yDomain).range([b,t]);
  const g = svg.append("g");

  g.append("path").datum(aws)
    .attr("d", d3.line().x(d=>x(toDate(d[0]))).y(d=>y(d[1])))
    .attr("fill","none").attr("stroke",seriesColors[0]).attr("stroke-width",2.6)
    .attr("stroke-linejoin","round");

  p.sats.forEach((arr,i) => {
    g.append("g").selectAll("path").data(arr).join("path")
      .attr("transform", d=>`translate(${x(toDate(d[0]))},${y(d[1])})`)
      .attr("d", STAR).attr("fill","none")
      .attr("stroke", seriesColors[i+1]).attr("stroke-width",1.2);
  });

  const tickDates = monthTickDays.map(toDate);
  const styleAxis = sel => {
    sel.select(".domain").remove();
    sel.selectAll(".tick line").attr("stroke",AX);
    sel.selectAll("text").attr("fill",TX).style("font-size","14.2px").style("font-family","DejaVu Sans");
  };
  const bx = g.append("g").attr("transform",`translate(0,${b})`)
    .call(d3.axisBottom(x).tickValues(tickDates).tickFormat((d,i)=>monthLabels[i]).tickSize(-9));
  styleAxis(bx);
  bx.selectAll("text").attr("y",17).attr("dy","0.35em");
  const tx = g.append("g").attr("transform",`translate(0,${t})`)
    .call(d3.axisTop(x).tickValues(tickDates).tickFormat("").tickSize(-9));
  styleAxis(tx);
  const ly = g.append("g").attr("transform",`translate(${l},0)`)
    .call(d3.axisLeft(y).tickValues(yTicks).tickFormat(d=>String(d)).tickSize(-9));
  styleAxis(ly);
  ly.selectAll("text").attr("x",-7.6).attr("dy","0.35em");
  const ry = g.append("g").attr("transform",`translate(${r},0)`)
    .call(d3.axisRight(y).tickValues(yTicks).tickFormat("").tickSize(-9));
  styleAxis(ry);
  g.append("rect").attr("x",l).attr("y",t).attr("width",r-l).attr("height",b-t)
    .attr("fill","none").attr("stroke",AX).attr("stroke-width",1);
  g.append("text").attr("x",r-33).attr("y",b+37.4).attr("dy","0.35em")
    .attr("text-anchor","middle").attr("fill",TX).style("font-size","14.2px").text(yearLabel);

  const L = p.legend;
  const lg = g.append("g").attr("transform",`translate(${L.x},${L.y})`);
  lg.append("rect").attr("width",L.w).attr("height",L.h).attr("fill","#fff").attr("stroke","#4a4a4a").attr("stroke-width",1);
  seriesNames.forEach((name,i) => {
    const yy = L.first + i*L.gap;
    if (i===0) {
      lg.append("line").attr("x1",5).attr("x2",38.5).attr("y1",yy).attr("y2",yy)
        .attr("stroke",seriesColors[0]).attr("stroke-width",2.6);
    } else {
      lg.append("path").attr("transform",`translate(21.7,${yy})`).attr("d",STAR)
        .attr("fill","none").attr("stroke",seriesColors[i]).attr("stroke-width",1.2);
    }
    lg.append("text").attr("x",42.5).attr("y",yy).attr("dy","0.35em")
      .attr("fill","#262626").style("font-size","13.6px").text(name);
  });
});
</script></body></html>
